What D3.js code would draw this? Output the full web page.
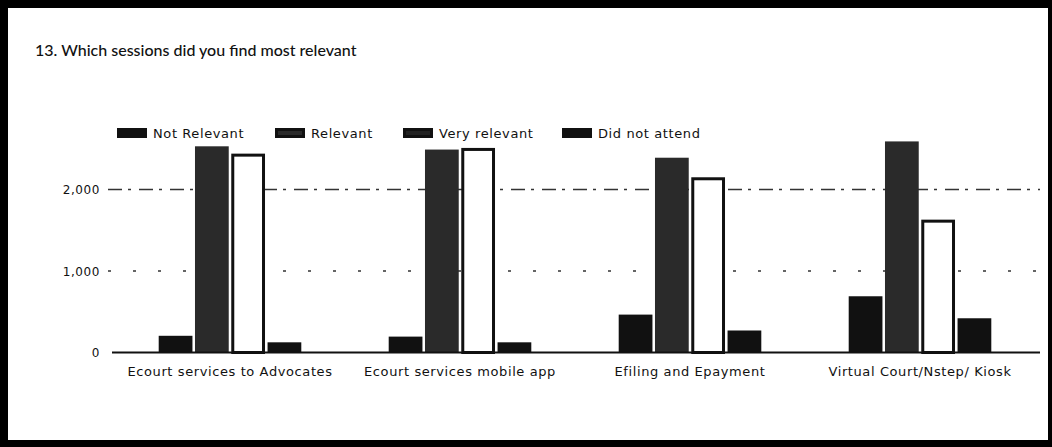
<!DOCTYPE html>
<html>
<head>
<meta charset="utf-8">
<script src="https://cdn.jsdelivr.net/npm/d3@7"></script>
<style>
  body { margin: 0; background: #fff; }
  svg text { fill: #111; }
</style>
</head>
<body>
<div id="chart"></div>
<script>
// Données
const categories = ["Ecourt services to Advocates", "Ecourt services mobile app", "Efiling and Epayment", "Virtual Court/Nstep/ Kiosk"]
const series = ["Not Relevant", "Relevant", "Very relevant", "Did not attend"]
const notRelevant = [205, 195, 465, 690]
const relevant = [2530, 2490, 2390, 2590]
const veryRelevant = [2440, 2510, 2150, 1630]
const didNotAttend = [125, 125, 270, 420]
const yTicks = [0, 1000, 2000]

var width = 1052
var height = 447

const svg = d3.select("#chart")
  .append("svg")
    .attr("width", width)
    .attr("height", height)

// Cadre noir (photocopie)
svg.append("rect").attr("x", 0).attr("y", 0).attr("width", width).attr("height", 8).attr("fill", "#000")
svg.append("rect").attr("x", 0).attr("y", 0).attr("width", 8).attr("height", height).attr("fill", "#000")
svg.append("rect").attr("x", 0).attr("y", 440).attr("width", width).attr("height", 7).attr("fill", "#000")
svg.append("rect").attr("x", 1048).attr("y", 0).attr("width", 4).attr("height", height).attr("fill", "#000")

// Titre
svg.append("text")
  .attr("x", 35)
  .attr("y", 56)
  .style("font-family", "Lato, sans-serif")
  .style("font-size", "16px")
  .style("font-weight", 500)
  .text("13. Which sessions did you find most relevant")

// Tableau construit à partir des séries
const values = [notRelevant, relevant, veryRelevant, didNotAttend]
const data = categories.map((c, i) => ({
  cat: c,
  vals: series.map((s, j) => ({ key: s, value: values[j][i] }))
}))

// Echelles
const x0 = d3.scaleBand()
  .domain(categories)
  .range([115, 1035])
  .paddingInner(0.38)
  .paddingOuter(0.19)

const x1 = d3.scaleBand()
  .domain(series)
  .range([0, x0.bandwidth()])
  .paddingInner(0.07)

const y = d3.scaleLinear()
  .domain([0, 3000])
  .range([352.5, 108])

const fill = d3.scaleOrdinal().domain(series).range(["#111", "#2a2a2a", "#fff", "#111"])
const stroke = d3.scaleOrdinal().domain(series).range(["none", "none", "#111", "none"])

// Lignes de grille
svg.append("g")
  .selectAll("line")
  .data(yTicks.filter(d => d > 0))
  .join("line")
    .attr("x1", 108)
    .attr("x2", 1040)
    .attr("y1", d => y(d))
    .attr("y2", d => y(d))
    .attr("stroke", "#333")
    .attr("stroke-width", 1.5)
    .attr("stroke-dasharray", d => d === 2000 ? "14,6,3,8" : "3,22")

// Axe Y
const yAxis = svg.append("g")
  .attr("transform", "translate(100,0)")
  .call(d3.axisLeft(y).tickValues(yTicks).tickFormat(d3.format(",")).tickSize(0))
yAxis.select(".domain").remove()
yAxis.selectAll("text")
  .attr("x", 0)
  .attr("dy", "0.35em")
  .style("font-family", "DejaVu Sans, sans-serif")
  .style("font-size", "12px")
  .style("letter-spacing", "0.6px")

// Barres
const groups = svg.append("g")
  .selectAll("g")
  .data(data)
  .join("g")
    .attr("transform", d => "translate(" + x0(d.cat) + ",0)")

groups.selectAll("rect")
  .data(d => d.vals)
  .join("rect")
    .attr("x", d => x1(d.key) + (d.key === "Very relevant" ? 1.5 : 0))
    .attr("y", d => y(d.value) + (d.key === "Very relevant" ? 1.5 : 0))
    .attr("width", d => x1.bandwidth() - (d.key === "Very relevant" ? 3 : 0))
    .attr("height", d => y(0) - y(d.value) - (d.key === "Very relevant" ? 1.5 : 0))
    .attr("fill", d => fill(d.key))
    .attr("stroke", d => stroke(d.key))
    .attr("stroke-width", 3)

// Ligne de base
svg.append("line")
  .attr("x1", 112)
  .attr("x2", 1040)
  .attr("y1", y(0))
  .attr("y2", y(0))
  .attr("stroke", "#111")
  .attr("stroke-width", 2)

// Etiquettes des catégories
svg.append("g")
  .attr("transform", "translate(0," + y(0) + ")")
  .call(d3.axisBottom(x0).tickSize(0))
  .call(g => g.select(".domain").remove())
  .selectAll("text")
    .attr("y", 19)
    .attr("dy", "0.35em")
    .style("font-family", "DejaVu Sans, sans-serif")
    .style("font-size", "13px")
    .style("letter-spacing", "0.6px")

// Légende
const legendX = [117, 275, 403, 562]
const legend = svg.append("g")
  .selectAll("g")
  .data(series)
  .join("g")
    .attr("transform", (d, i) => "translate(" + legendX[i] + ",128)")

legend.append("rect")
  .attr("x", 1.5)
  .attr("y", 1.5)
  .attr("width", 27)
  .attr("height", 7)
  .attr("fill", d => d === "Very relevant" ? "#222" : fill(d))
  .attr("stroke", "#111")
  .attr("stroke-width", 3)

legend.append("text")
  .attr("x", 36)
  .attr("y", 10)
  .style("font-family", "DejaVu Sans, sans-serif")
  .style("font-size", "13px")
  .style("letter-spacing", "0.6px")
  .text(d => d)
</script>
</body>
</html>
